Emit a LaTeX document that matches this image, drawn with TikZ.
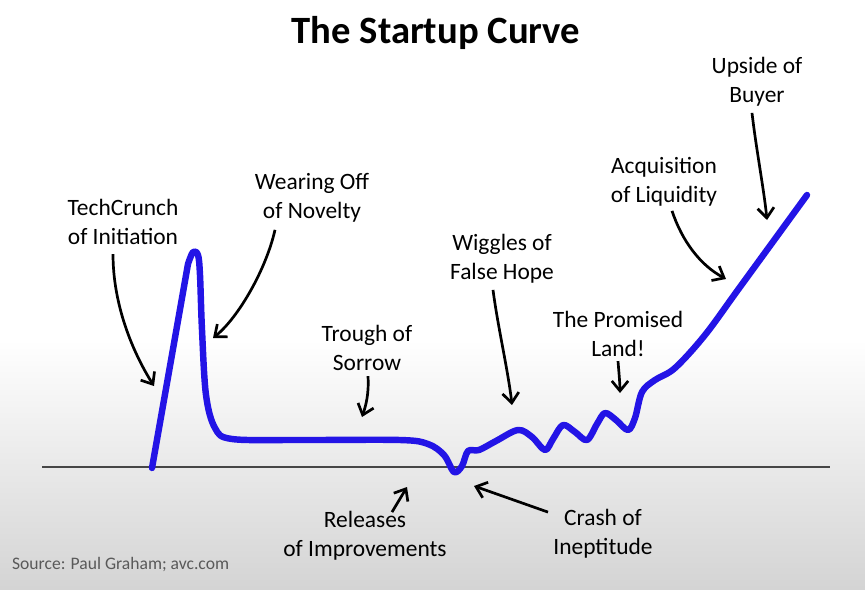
\documentclass[tikz,border=0pt]{standalone}
\usepackage{fontspec}
\setmainfont{Carlito}
\usetikzlibrary{arrows.meta,calc}
\definecolor{curveblue}{RGB}{35,20,230}
\definecolor{axisgray}{RGB}{70,70,70}

\begin{document}
\begin{tikzpicture}[
    x=0.03cm, y=-0.03cm,
    lbl/.style={font=\fontsize{20}{24.7}\selectfont, align=center, inner sep=1pt},
    arr/.style={line width=2.3pt, -{Straight Barb[length=8.5pt,width=14pt]}},
    curve/.style={curveblue, line width=5.5pt, line cap=round, line join=round}
]

% Background
\useasboundingbox (0,0) rectangle (865,590);
\fill[white] (0,0) rectangle (865,340);
\shade[top color=white, bottom color=black!17] (0,340) rectangle (865,590);

% Title
\node[font=\fontsize{33}{38}\bfseries\selectfont] (title) at (436,33) {The Startup Curve};

% Axis
\coordinate (ax0) at (42,467);
\coordinate (ax1) at (830,467);
\draw[axisgray, line width=1.5pt] (ax0) -- (ax1);

% Curve
\draw[curve] (152,468) -- (188,264)
    plot[smooth, tension=0.55] coordinates {
    (188,264) (193,252) (198,255) (200,275) (202,330) (206,395)
    (215,428) (232,439) (300,440) (400,440) (428,444) (444,455) (454,472)
    (462,466) (468,451) (479,450) (496,441) (518,430) (532,437) (545,450)
    (553,439) (563,425) (575,432) (587,440) (597,424) (605,413) (616,420)
    (628,430) (635,418) (642,392) (655,380) (675,368) (705,335) (740,287)
    (807,195)};

% Tips on the curve
\coordinate (tipTC) at (154,386);
\coordinate (tipWO) at (213,338);
\coordinate (tipTS) at (362,417);
\coordinate (tipWH) at (512,405);
\coordinate (tipPL) at (620,393);
\coordinate (tipAL) at (726,279);
\coordinate (tipUB) at (767,220);
\coordinate (tipRI) at (407,487);
\coordinate (tipCI) at (474,486);

% Labels
\node[lbl] (tc) at (123,222) {TechCrunch\\of Initiation};
\node[lbl] (wo) at (312,198) {Wearing Off\\of Novelty};
\node[lbl] (ts) at (367,348) {Trough of\\Sorrow};
\node[lbl] (wh) at (502,259) {Wiggles of\\False Hope};
\node[lbl] (pl) at (618,334) {The Promised\\Land!};
\node[lbl] (al) at (664,182) {Acquisition\\of Liquidity};
\node[lbl] (ub) at (757,82) {Upside of\\Buyer};
\node[lbl] (ri) at (365,536) {Releases\\of Improvements};
\node[lbl] (ci) at (603,534) {Crash of\\Ineptitude};

% Arrows
\draw[arr] ($(tc.south)+(-10,8)$) .. controls +(0,50) and (132,351) .. (tipTC);
\draw[arr] ($(wo.south)+(-37,6)$) .. controls +(-9,40) and (238,318) .. (tipWO);
\draw[arr] ($(ts.south)+(1,4)$) .. controls +(1,18) and (366,405) .. (tipTS);
\draw[arr] ($(wh.south)+(-9,5)$) .. controls +(5,38) and (508,370) .. (tipWH);
\draw[arr] ($(pl.south)+(0,3)$) .. controls +(1,12) and (620,385) .. (tipPL);
\draw[arr] ($(al.south)+(8,3)$) .. controls +(10,30) and (700,265) .. (tipAL);
\draw[arr] ($(ub.south)+(-5,5)$) .. controls +(4,35) and (764,190) .. (tipUB);
\draw[arr] ($(ri.north)+(27,2)$) -- (tipRI);
\draw[arr] ($(ci.north)+(-55,4)$) -- (tipCI);

% Source
\node[font=\fontsize{15}{17}\selectfont, text=black!65, anchor=west] (src) at (8,565) {Source: Paul Graham; avc.com};

\end{tikzpicture}
\end{document}
